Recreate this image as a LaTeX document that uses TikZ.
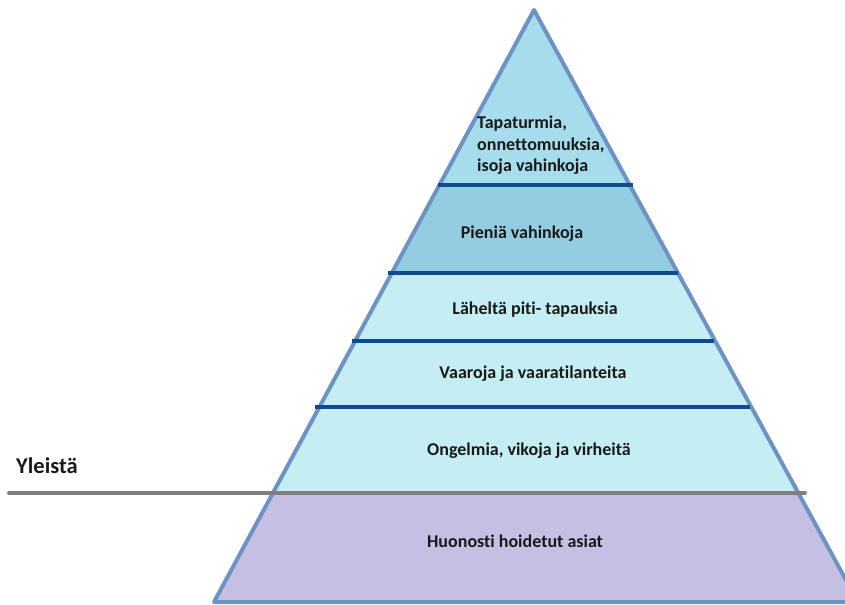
\documentclass[tikz,border=0pt]{standalone}
\usepackage{fontspec}
\setmainfont[Ligatures={NoCommon}]{Carlito}
\definecolor{topblue}{HTML}{A6DCEB}
\definecolor{midblue}{HTML}{94CDE2}
\definecolor{lightcyan}{HTML}{C4EEF3}
\definecolor{lavender}{HTML}{C6BFE4}
\definecolor{edgeblue}{HTML}{6E92C2}
\definecolor{navyline}{HTML}{0E4A8C}
\definecolor{grayline}{HTML}{7F7F7F}
\tikzset{
  lbl/.style={font=\fontsize{18bp}{21.5bp}\selectfont\bfseries, text=black!90, inner sep=0pt},
  divider/.style={draw=navyline, line width=4bp},
}
\begin{document}
\begin{tikzpicture}[x=1bp, y=-1bp]
\useasboundingbox (0,0) rectangle (845,605);
\coordinate (apex) at (534,10);
\coordinate (bl) at (214,602);
\coordinate (br) at (858,602);
\begin{scope}
  \clip (apex) -- (bl) -- (br) -- cycle;
  \fill[topblue] (0,0) rectangle (845,185);
  \fill[midblue] (0,185) rectangle (845,273);
  \fill[lightcyan] (0,273) rectangle (845,493);
  \fill[lavender] (0,493) rectangle (860,610);
\end{scope}
\begin{scope}
  \clip (0,0) rectangle (845,605);
  \draw[edgeblue, line width=4bp, line join=round] (apex) -- (bl) -- (br) -- cycle;
\end{scope}
\draw[divider] (438,185) -- (633,185);
\draw[divider] (388,273) -- (678,273);
\draw[divider] (352,341) -- (714,341);
\draw[divider] (315,407) -- (750,407);
\draw[grayline, line width=4bp, line cap=round] (9,493) -- (805,493);
\node[lbl, anchor=north west, align=left] (t1) at (477,116) {Tapaturmia,\\onnettomuuksia,\\isoja vahinkoja};
\node[lbl] (t2) at (522,234) {Pieniä vahinkoja};
\node[lbl] (t3) at (535,310) {Läheltä piti- tapauksia};
\node[lbl] (t4) at (533,374) {Vaaroja ja vaaratilanteita};
\node[lbl] (t5) at (529,451) {Ongelmia, vikoja ja virheitä};
\node[lbl] (t6) at (515,541) {Huonosti hoidetut asiat};
\node[font=\fontsize{22.5bp}{26bp}\selectfont\bfseries, text=black!90, inner sep=0pt, anchor=west] (yl) at (16,466) {Yleistä};
\end{tikzpicture}
\end{document}
